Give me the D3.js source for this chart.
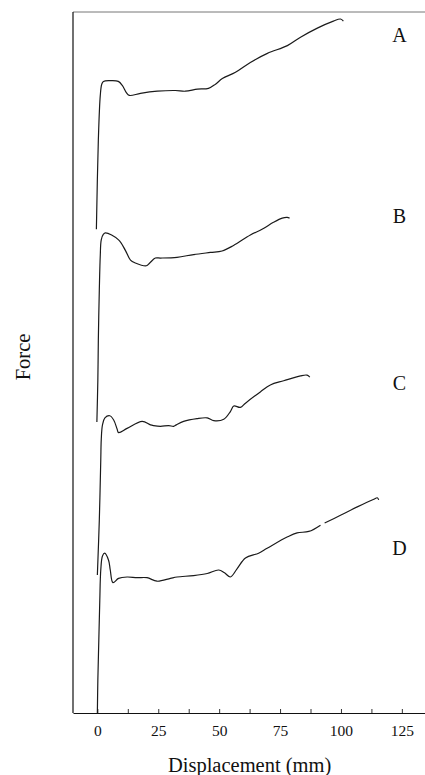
<!DOCTYPE html>
<html>
<head>
<meta charset="utf-8">
<script src="https://cdn.jsdelivr.net/npm/d3@7"></script>
<style>
  body { margin: 0; background: #fff; }
  svg text { font-family: "Liberation Serif", "DejaVu Serif", serif; fill: #111; }
</style>
</head>
<body>
<div id="chart"></div>
<script>
// curve names and vertical offsets (force units, stacked traces)
const curveNames = ["A", "B", "C", "D"];
const curveOffsets = [69.0, 41.5, 19.7, 0];

// displacement (mm) / force (arbitrary units)
const dispA = [-0.4, 0.4, 1.2, 1.8, 2.5, 5.3, 8.6, 10.3, 11.9, 13.1, 17.7, 24.6, 32, 36.1, 41.1, 45.6, 48.5, 51.3, 56.7, 62.8, 69.8, 78, 83.4, 90.3, 96.9, 99.8, 101];
const forceA = [0, 12.7, 19.1, 20.7, 21.1, 21.2, 21.1, 20.5, 19.5, 19.1, 19.4, 19.7, 19.8, 19.7, 20.0, 20.1, 20.7, 21.5, 22.4, 23.8, 25.1, 26.2, 27.4, 28.7, 29.7, 30.0, 29.7];

const dispB = [-0.2, 0.2, 0.4, 0.8, 1.2, 1.6, 2.5, 3.3, 8.7, 11.5, 13.6, 15.6, 20.1, 21.5, 23.8, 25.9, 32.7, 39.5, 46.4, 51.2, 55.9, 62.8, 67.6, 72.3, 75.9, 77.9, 78.9];
const forceB = [0, 6.0, 11.7, 18.8, 23.8, 26.0, 26.8, 27.0, 26.0, 24.5, 23.1, 22.7, 22.3, 22.7, 23.4, 23.4, 23.5, 23.9, 24.2, 24.4, 25.2, 26.7, 27.5, 28.5, 29.1, 29.2, 29.1];

const dispC = [0, 0.8, 1.4, 1.6, 2.1, 3.1, 5.1, 6.7, 8.1, 8.7, 12.2, 18.4, 21.8, 23.1, 25.9, 29.3, 31.3, 32.4, 35.4, 40.9, 45.1, 47.8, 51.9, 54.6, 56, 58.7, 60.8, 66.9, 71, 76.5, 83.4, 86.1, 87.2];
const forceC = [0, 7.8, 16.4, 19.3, 21.4, 22.4, 22.7, 22.1, 20.8, 20.3, 20.9, 21.9, 21.4, 21.3, 21.2, 21.3, 21.2, 21.4, 21.9, 22.3, 22.4, 22.0, 22.2, 23.3, 24.1, 23.9, 24.5, 26.1, 27.1, 27.7, 28.4, 28.5, 28.2];

// D has a short break in the trace near 92 mm (null)
const dispD = [0, 0.2, 0.6, 1.0, 1.4, 2.1, 3.0, 4.6, 5.3, 6.4, 8.7, 12.2, 16.3, 20.4, 24.5, 30, 32.7, 39.5, 45.1, 49.8, 52.2, 54.6, 57.4, 60.8, 66.2, 69.7, 77.9, 82, 86.8, 91.6, null, 93.3, 99.8, 106.7, 113.5, 114.9, 115.5];
const forceD = [0, 4.7, 10.4, 16.1, 20.4, 22.4, 22.8, 21.8, 20.4, 18.6, 19.2, 19.4, 19.3, 19.3, 18.8, 19.2, 19.4, 19.6, 19.9, 20.4, 20.0, 19.4, 20.6, 22.1, 22.8, 23.5, 25.1, 25.7, 25.9, 26.8, null, 27.1, 28.2, 29.4, 30.5, 30.7, 30.4];

const xTicks = [0, 12.5, 25, 37.5, 50, 62.5, 75, 87.5, 100, 112.5, 125];

const displacements = [dispA, dispB, dispC, dispD];
const forces = [forceA, forceB, forceC, forceD];

const margin = {top: 12, right: 0, bottom: 62, left: 73},
    width = 425 - margin.left - margin.right,
    height = 775 - margin.top - margin.bottom;

const svg = d3.select("#chart").append("svg")
    .attr("width", 425)
    .attr("height", 775);

const g = svg.append("g")
    .attr("transform", "translate(" + margin.left + "," + margin.top + ")");

const x = d3.scaleLinear().domain([-10, 134.5]).range([0, width]);
const y = d3.scaleLinear().domain([0, 100]).range([height, 0]);

// top frame line
g.append("line")
    .attr("x1", 0).attr("x2", width)
    .attr("y1", 0).attr("y2", 0)
    .attr("stroke", "#777").attr("stroke-width", 1);

// left axis line, no ticks
g.append("line")
    .attr("x1", 0).attr("x2", 0)
    .attr("y1", 0).attr("y2", height)
    .attr("stroke", "#111").attr("stroke-width", 1.2);

// bottom axis, ticks pointing inside
const xAxis = d3.axisBottom(x)
    .tickValues(xTicks)
    .tickSizeInner(-4)
    .tickSizeOuter(0)
    .tickPadding(12)
    .tickFormat(d => d % 25 === 0 ? d : "");

const xg = g.append("g")
    .attr("transform", "translate(0," + height + ")")
    .call(xAxis);
xg.select(".domain").attr("stroke", "#111").attr("stroke-width", 1.2);
xg.selectAll(".tick line").attr("stroke", "#333");
xg.selectAll(".tick text")
    .style("font-family", "'Liberation Serif', serif")
    .style("font-size", "15.5px")
    .attr("fill", "#111");

// traces
const line = d3.line()
    .defined(d => d.f != null)
    .x(d => x(d.x))
    .y(d => y(d.f))
    .curve(d3.curveCatmullRom.alpha(0.5));

curveNames.forEach(function(name, i) {
    const pts = displacements[i].map(function(v, j) {
        const f = forces[i][j];
        return {x: v, f: f == null ? null : f + curveOffsets[i]};
    });
    g.append("path")
        .datum(pts)
        .attr("fill", "none")
        .attr("stroke", "#1a1a1a")
        .attr("stroke-width", 1.2)
        .attr("d", line);
});

// curve letters
const labelLevels = [96.7, 70.9, 47.1, 23.5];
g.selectAll(".curve-label")
    .data(curveNames)
    .enter().append("text")
    .attr("class", "curve-label")
    .attr("x", x(124))
    .attr("y", (d, i) => y(labelLevels[i]))
    .attr("dy", "0.35em")
    .attr("text-anchor", "middle")
    .style("font-size", "20px")
    .text(d => d);

// axis titles
svg.append("text")
    .attr("x", margin.left + x(62.5))
    .attr("y", 765)
    .attr("dy", "0.35em")
    .attr("text-anchor", "middle")
    .style("font-size", "20.5px")
    .text("Displacement (mm)");

svg.append("text")
    .attr("transform", "translate(23,357) rotate(-90)")
    .attr("dy", "0.35em")
    .attr("text-anchor", "middle")
    .style("font-size", "20.5px")
    .text("Force");
</script>
</body>
</html>
